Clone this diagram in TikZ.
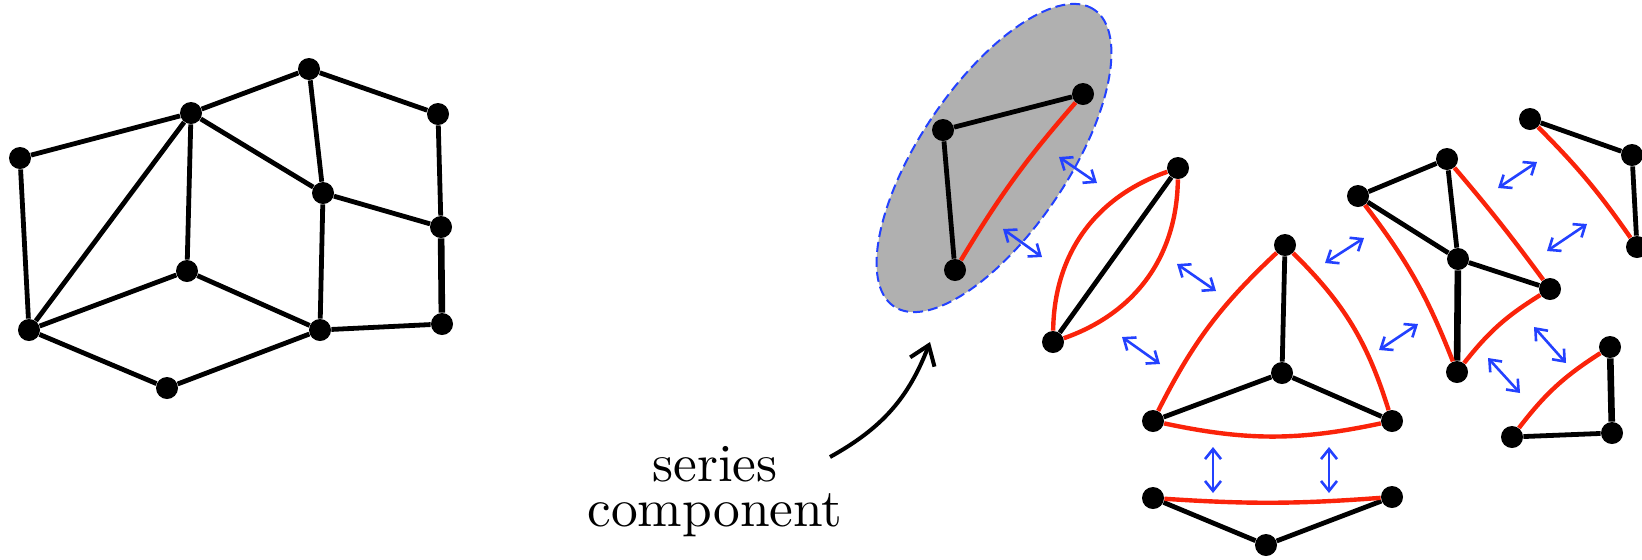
\documentclass[tikz,border=0pt]{standalone}
\usetikzlibrary{arrows.meta}
\definecolor{myred}{RGB}{250,35,10}
\definecolor{myblue}{RGB}{35,65,255}
\definecolor{mygray}{RGB}{176,176,176}
\begin{document}
\begin{tikzpicture}[x=0.5pt,y=-0.5pt,
  vtx/.style={circle,fill=black,inner sep=0pt,minimum size=11pt},
  blk/.style={line width=2.4pt,black},
  thk/.style={line width=3.3pt,black},
  rde/.style={line width=2.2pt,myred},
  barrow/.style={line width=1.3pt,myblue,>={Straight Barb[length=5pt,width=8pt]},<->},
]
\useasboundingbox (0,0) rectangle (1642,559);

% ---- left graph
\node[vtx] (A) at (20,158) {};
\node[vtx] (B) at (191,113) {};
\node[vtx] (C) at (309,69) {};
\node[vtx] (D) at (438,114) {};
\node[vtx] (E) at (323,193) {};
\node[vtx] (F) at (441,227) {};
\node[vtx] (G) at (29,330) {};
\node[vtx] (H) at (187,271) {};
\node[vtx] (I) at (320,330) {};
\node[vtx] (J) at (442,324) {};
\node[vtx] (K) at (167,388) {};
\draw[blk] (A)--(B) (A)--(G) (B)--(C) (B)--(G) (B)--(H) (B)--(E) (C)--(E) (C)--(D)
  (D)--(F) (E)--(F) (E)--(I) (I)--(J) (G)--(H) (H)--(I) (G)--(K) (K)--(I);
\draw[thk] (F)--(J);

% ---- series component
\draw[fill=mygray,draw=myblue,line width=1pt,dash pattern=on 5pt off 2.5pt,
  shift={(994,158)},rotate=56] (0,0) ellipse [x radius=89.5pt,y radius=37pt];
\node[vtx] (P1) at (943,130) {};
\node[vtx] (P2) at (1083,94) {};
\node[vtx] (P3) at (955,270) {};
\draw[blk] (P1)--(P2) (P1)--(P3);
\draw[rde] (P3) to[bend left=5] (P2);

% ---- lens
\node[vtx] (Q1) at (1178,168) {};
\node[vtx] (Q2) at (1053,342) {};
\draw[blk] (Q1)--(Q2);
\draw[rde] (Q2) to[bend left=35] (Q1);
\draw[rde] (Q2) to[bend right=35] (Q1);

% ---- triangle with centre
\node[vtx] (T1) at (1285,245) {};
\node[vtx] (T2) at (1282,373) {};
\node[vtx] (T3) at (1153,421) {};
\node[vtx] (T4) at (1392,421) {};
\draw[blk] (T1)--(T2) (T2)--(T3) (T2)--(T4);
\draw[rde] (T3) to[bend left=10] (T1);
\draw[rde] (T1) to[bend left=14] (T4);
\draw[rde] (T3) to[bend right=12] (T4);

% ---- bottom triangle
\node[vtx] (U1) at (1153,498) {};
\node[vtx] (U2) at (1392,497) {};
\node[vtx] (U3) at (1266,545) {};
\draw[blk] (U1)--(U3) (U3)--(U2);
\draw[rde] (U1) to[bend right=4] (U2);

% ---- V group
\node[vtx] (V1) at (1358,196) {};
\node[vtx] (V2) at (1447,159) {};
\node[vtx] (V3) at (1458,259) {};
\node[vtx] (V4) at (1550,289) {};
\node[vtx] (V5) at (1457,372) {};
\draw[blk] (V1)--(V2) (V1)--(V3) (V2)--(V3) (V3)--(V4);
\draw[thk] (V3)--(V5);
\draw[rde] (V1) to[bend left=8] (V5);
\draw[rde] (V2) to[bend left=2] (V4);
\draw[rde] (V5) to[bend left=10] (V4);

% ---- W group
\node[vtx] (W1) at (1530,119) {};
\node[vtx] (W2) at (1632,155) {};
\node[vtx] (W3) at (1637,247) {};
\draw[blk] (W1)--(W2) (W2)--(W3);
\draw[rde] (W1) to[bend left=5] (W3);

% ---- X group
\node[vtx] (X1) at (1610,347) {};
\node[vtx] (X2) at (1612,433) {};
\node[vtx] (X3) at (1512,437) {};
\draw[thk] (X1)--(X2);
\draw[blk] (X2)--(X3);
\draw[rde] (X3) to[bend left=10] (X1);

% ---- blue swap arrows
\coordinate (a1s) at (1059,157);  \coordinate (a1e) at (1097,183);
\coordinate (a2s) at (1003,229);  \coordinate (a2e) at (1042,257);
\coordinate (a3s) at (1177,264);  \coordinate (a3e) at (1216,291);
\coordinate (a4s) at (1122,337);  \coordinate (a4e) at (1160,364);
\coordinate (a5s) at (1325,263);  \coordinate (a5e) at (1364,238);
\coordinate (a6s) at (1379,350);  \coordinate (a6e) at (1418,324);
\coordinate (a7s) at (1213,447);  \coordinate (a7e) at (1213,493);
\coordinate (a8s) at (1329,447);  \coordinate (a8e) at (1329,493);
\coordinate (a9s) at (1498,188);  \coordinate (a9e) at (1537,162);
\coordinate (a10s) at (1547,251); \coordinate (a10e) at (1587,224);
\coordinate (a11s) at (1534,327); \coordinate (a11e) at (1566,363);
\coordinate (a12s) at (1488,358); \coordinate (a12e) at (1520,393);
\foreach \i in {1,...,12} {\draw[barrow] (a\i s) -- (a\i e);}

% ---- label
\node[align=center,font=\fontsize{10}{8.4}\selectfont,inner sep=0pt,scale=2.67,transform shape] (lbl) at (715,492) {series\\component};
\coordinate (s1) at (830,457);
\coordinate (s2) at (930,342);
\draw[line width=2pt,-{Straight Barb[length=9pt,width=13pt]}] (s1) to[bend right=20] (s2);
\end{tikzpicture}
\end{document}
